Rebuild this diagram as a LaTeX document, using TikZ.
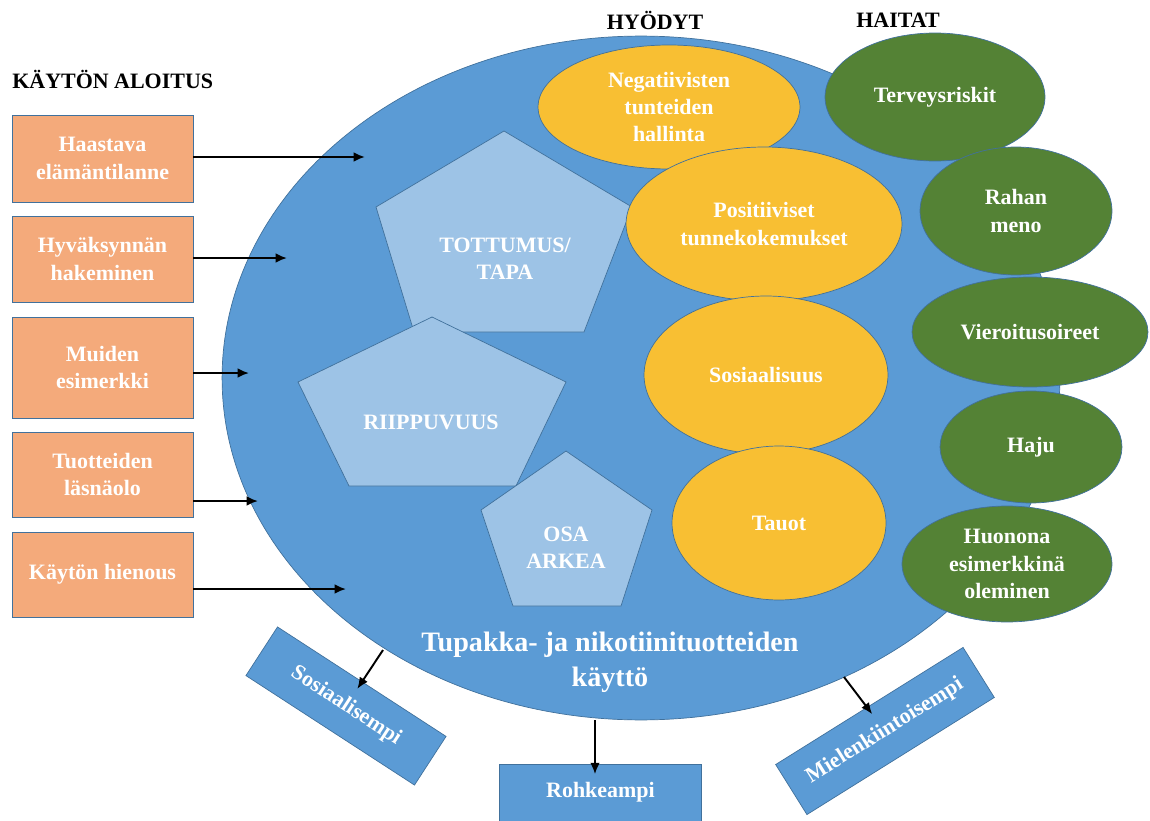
\documentclass[tikz,border=0pt]{standalone}
\usepackage{fontspec}
\setmainfont{Liberation Serif}
\usepackage{tikz}
\usetikzlibrary{shapes.geometric, arrows.meta, positioning}

\definecolor{sky}{HTML}{5B9BD5}
\definecolor{paleblue}{HTML}{9DC3E6}
\definecolor{gold}{HTML}{F8BF33}
\definecolor{leaf}{HTML}{548235}
\definecolor{salmon}{HTML}{F4AA7B}
\definecolor{edge}{HTML}{41719C}

\begin{document}
\begin{tikzpicture}[
    x=0.02cm, y=-0.02cm,
    whitetext/.style={text=white, font=\bfseries\fontsize{12.5}{15.5}\selectfont, align=center},
    startbox/.style={rectangle, draw=edge, fill=salmon, whitetext, minimum width=3.62cm, minimum height=#1, inner sep=0pt},
    gain/.style={ellipse, draw=edge, fill=gold, whitetext, inner sep=0pt},
    harm/.style={ellipse, draw=edge, fill=leaf, whitetext, inner sep=0pt},
    outcome/.style={rectangle, draw=edge, fill=sky, whitetext, inner sep=0pt},
    pentshape/.style={draw=edge, fill=paleblue},
    head/.style={font=\bfseries\fontsize{12.5}{15.5}\selectfont, inner sep=0pt},
    arrow/.style={-{Latex[length=6.5pt, width=5.5pt]}, line width=1.1pt}
]
    \useasboundingbox (0,0) rectangle (1150,821);

    % headings
    \node[head, anchor=west] (start) at (12,79) {KÄYTÖN ALOITUS};
    \node[head] (benefits) at (655,20) {HYÖDYT};
    \node[head] (harms) at (898,20) {HAITAT};

    % the big ellipse
    \node[ellipse, draw=edge, fill=sky, minimum width=16.76cm, minimum height=13.68cm, inner sep=0pt] (usage) at (641,378) {};
    \node[whitetext, font=\bfseries\fontsize{16}{20}\selectfont] (usagetext) at (610,662) {Tupakka- ja nikotiinituotteiden\\käyttö};

    % pentagons
    \draw[pentshape] (504,131) -- (632,207) -- (584,332) -- (414,332) -- (376,207) -- cycle;
    \node[whitetext] (habit) at (505,259) {TOTTUMUS/\\TAPA};
    \draw[pentshape] (432,317) -- (566,382) -- (516,486) -- (349,486) -- (298,382) -- cycle;
    \node[whitetext] (addiction) at (431,422) {RIIPPUVUUS};
    \draw[pentshape] (566,451) -- (652,510) -- (621,606) -- (513,606) -- (481,510) -- cycle;
    \node[whitetext] (everyday) at (566,548) {OSA\\ARKEA};

    % benefits
    \node[gain, minimum width=5.24cm, minimum height=2.48cm] (negative) at (669,107) {Negatiivisten\\tunteiden\\hallinta};
    \node[gain, minimum width=5.52cm, minimum height=3.08cm] (positive) at (764,224) {Positiiviset\\tunnekokemukset};
    \node[gain, minimum width=4.88cm, minimum height=3.16cm] (social) at (766,375) {Sosiaalisuus};
    \node[gain, minimum width=4.28cm, minimum height=3.08cm] (breaks) at (779,523) {Tauot};

    % harms
    \node[harm, minimum width=4.4cm, minimum height=2.56cm] (health) at (935,97) {Terveysriskit};
    \node[harm, minimum width=3.84cm, minimum height=2.56cm] (money) at (1016,211) {Rahan\\meno};
    \node[harm, minimum width=4.72cm, minimum height=2.2cm] (withdrawal) at (1030,332) {Vieroitusoireet};
    \node[harm, minimum width=3.64cm, minimum height=2.24cm] (smell) at (1031,447) {Haju};
    \node[harm, minimum width=4.2cm, minimum height=2.32cm] (example) at (1007,564) {Huonona\\esimerkkinä\\oleminen};

    % starting reasons
    \node[startbox=1.74cm] (hard) at (102.5,158.5) {Haastava\\elämäntilanne};
    \node[startbox=1.72cm] (approval) at (102.5,259) {Hyväksynnän\\hakeminen};
    \node[startbox=2.02cm] (others) at (102.5,367.5) {Muiden\\esimerkki};
    \node[startbox=1.7cm] (presence) at (102.5,474.5) {Tuotteiden\\läsnäolo};
    \node[startbox=1.7cm] (fancy) at (102.5,574.5) {Käytön hienous};

    % outcomes
    \node[outcome, minimum width=4.02cm, minimum height=1.16cm, rotate=-33] (moresocial) at (346,706) {Sosiaalisempi};
    \node[outcome, minimum width=4.04cm, minimum height=1.14cm] (braver) at (600.5,792.5) {Rohkeampi};
    \node[outcome, minimum width=4.42cm, minimum height=1.18cm, rotate=32] (moreinteresting) at (885,731) {Mielenkiintoisempi};

    \coordinate (t1) at (365,157);
    \coordinate (t2) at (287,258);
    \coordinate (t3) at (249,373);
    \coordinate (t4) at (258,501);
    \coordinate (t5) at (346,589);
    \coordinate (s1) at (383,650);
    \coordinate (r1) at (595,720);
    \coordinate (m1) at (844,677);

    \draw[arrow] (hard.east |- t1) -- (t1);
    \draw[arrow] (approval.east |- t2) -- (t2);
    \draw[arrow] (others.east |- t3) -- (t3);
    \draw[arrow] (presence.east |- t4) -- (t4);
    \draw[arrow] (fancy.east |- t5) -- (t5);

    \draw[arrow, shorten >=-5pt] (s1) -- (moresocial);
    \draw[arrow, shorten >=-6pt] (r1) -- (braver.north -| r1);
    \draw[arrow, shorten >=-5pt] (m1) -- (moreinteresting);
\end{tikzpicture}
\end{document}
